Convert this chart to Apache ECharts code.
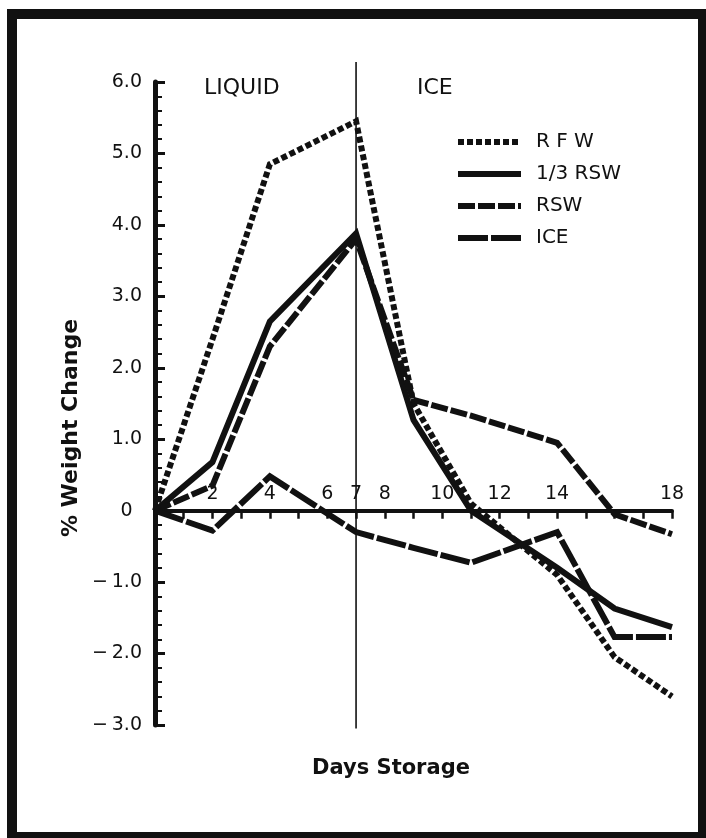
<!DOCTYPE html>
<html><head><meta charset="utf-8">
<script src="https://cdn.jsdelivr.net/npm/echarts@6/dist/echarts.min.js"></script>
<style>html,body{margin:0;padding:0;background:#fff}#c{width:706px;height:838px}</style>
</head><body><div id="c"></div>
<script>
// ---- data ----
const days   = [0, 2, 4, 7, 9, 11, 14, 16, 18];
const rfw    = [0, 2.4, 4.85, 5.45, 1.5, 0.1, -0.9, -2.05, -2.6];
const rsw13  = [0, 0.68, 2.65, 3.88, 1.27, 0, -0.8, -1.37, -1.63];
const rsw    = [0, 0.35, 2.3, 3.8, 1.55, 1.33, 0.95, -0.05, -0.33];
const ice    = [0, -0.28, 0.48, -0.3, -0.52, -0.73, -0.3, -1.77, -1.77];
const seriesNames = ['R F W', '1/3 RSW', 'RSW', 'ICE'];
const xTickLabels = [2, 4, 6, 7, 8, 10, 12, 14, 18];
const yTicks = [-3, -2, -1, 0, 1, 2, 3, 4, 5, 6];
const phaseDay = 7;
const phaseSpan = [-3.05, 6.28];
const phaseLabels = ['LIQUID', 'ICE'];

const INK = '#111';
const FONT = '"DejaVu Sans", sans-serif';

function pts(vals) { return days.map((d, i) => [d, vals[i]]); }
function lineSeries(name, vals, dash, z) {
  return {
    name: name, type: 'line', data: pts(vals), symbol: 'none', z: z,
    lineStyle: { color: INK, width: 6, type: dash, join: 'miter', cap: 'butt', miterLimit: 10 },
    itemStyle: { color: INK },
    emphasis: { disabled: true }, animation: false
  };
}

const chart = echarts.init(document.getElementById('c'), null, { renderer: 'canvas' });
chart.setOption({
  backgroundColor: '#fff',
  animation: false,
  grid: { left: 155, right: 34, top: 82, bottom: 113, containLabel: false },
  legend: {
    orient: 'vertical', left: 450, top: 127,
    itemWidth: 63, itemHeight: 14, itemGap: 12,
    data: seriesNames,
    selectedMode: false,
    lineStyle: { width: 6 },
    itemStyle: { opacity: 0 },
    textStyle: { color: INK, fontFamily: FONT, fontSize: 20, lineHeight: 20, padding: [0, 0, 0, 10] }
  },
  xAxis: {
    type: 'value', min: 0, max: 18, interval: 1, position: 'bottom', offset: 0,
    axisLine: { onZero: false, lineStyle: { color: INK, width: 4 } },
    axisTick: { show: true, inside: false, length: 8, lineStyle: { color: INK, width: 2.5 } },
    axisLabel: {
      inside: true, margin: 7, color: INK, fontFamily: FONT, fontSize: 19,
      formatter: v => xTickLabels.indexOf(v) >= 0 ? String(v) : ''
    },
    splitLine: { show: false }
  },
  yAxis: {
    type: 'value', min: -3, max: 6, interval: 1,
    axisLine: { show: true, lineStyle: { color: INK, width: 5 } },
    axisTick: { show: true, inside: true, length: 10, lineStyle: { color: INK, width: 3 } },
    minorTick: { show: true, splitNumber: 5, length: 7, lineStyle: { color: INK, width: 2 } },
    axisLabel: {
      margin: 13, color: INK, fontFamily: FONT, fontSize: 19,
      formatter: v => {
        if (yTicks.indexOf(v) < 0) return '';
        if (v === 0) return '0\u2002';
        if (v < 0) return '\u2212\u2009' + Math.abs(v).toFixed(1);
        return v.toFixed(1);
      }
    },
    splitLine: { show: false }
  },
  series: [
    {
      name: 'phase', type: 'line', data: [[phaseDay, phaseSpan[0]], [phaseDay, phaseSpan[1]]],
      symbol: 'none', clip: false, silent: true, z: 1,
      lineStyle: { color: INK, width: 1.6 }, animation: false
    },
    lineSeries(seriesNames[0], rfw, [6, 3], 3),
    lineSeries(seriesNames[1], rsw13, 'solid', 4),
    lineSeries(seriesNames[2], rsw, [17, 3], 5),
    lineSeries(seriesNames[3], ice, [30, 3], 6)
  ],
  graphic: [
    { type: 'rect', shape: { x: 12, y: 14, width: 691, height: 823 }, silent: true,
      style: { fill: 'none', stroke: INK, lineWidth: 10 } },
    { type: 'text', x: 204, y: 88, silent: true,
      style: { text: phaseLabels[0], font: '22px ' + FONT, fill: INK, align: 'left', verticalAlign: 'middle' } },
    { type: 'text', x: 417, y: 88, silent: true,
      style: { text: phaseLabels[1], font: '22px ' + FONT, fill: INK, align: 'left', verticalAlign: 'middle' } },
    { type: 'text', x: 71, y: 428, rotation: Math.PI / 2, silent: true,
      style: { text: '% Weight Change', font: 'bold 22px ' + FONT, fill: INK, align: 'center', verticalAlign: 'middle' } },
    { type: 'text', x: 391, y: 769, silent: true,
      style: { text: 'Days Storage', font: 'bold 21px ' + FONT, fill: INK, align: 'center', verticalAlign: 'middle' } }
  ]
});
// Move the x axis (line, ticks and labels) up to the y = 0 level, using the library's own y scale.
const zeroY = chart.convertToPixel({ yAxisIndex: 0 }, 0);
const bottomY = chart.convertToPixel({ yAxisIndex: 0 }, yTicks[0]);
chart.setOption({ xAxis: { offset: zeroY - bottomY } });
</script></body></html>
